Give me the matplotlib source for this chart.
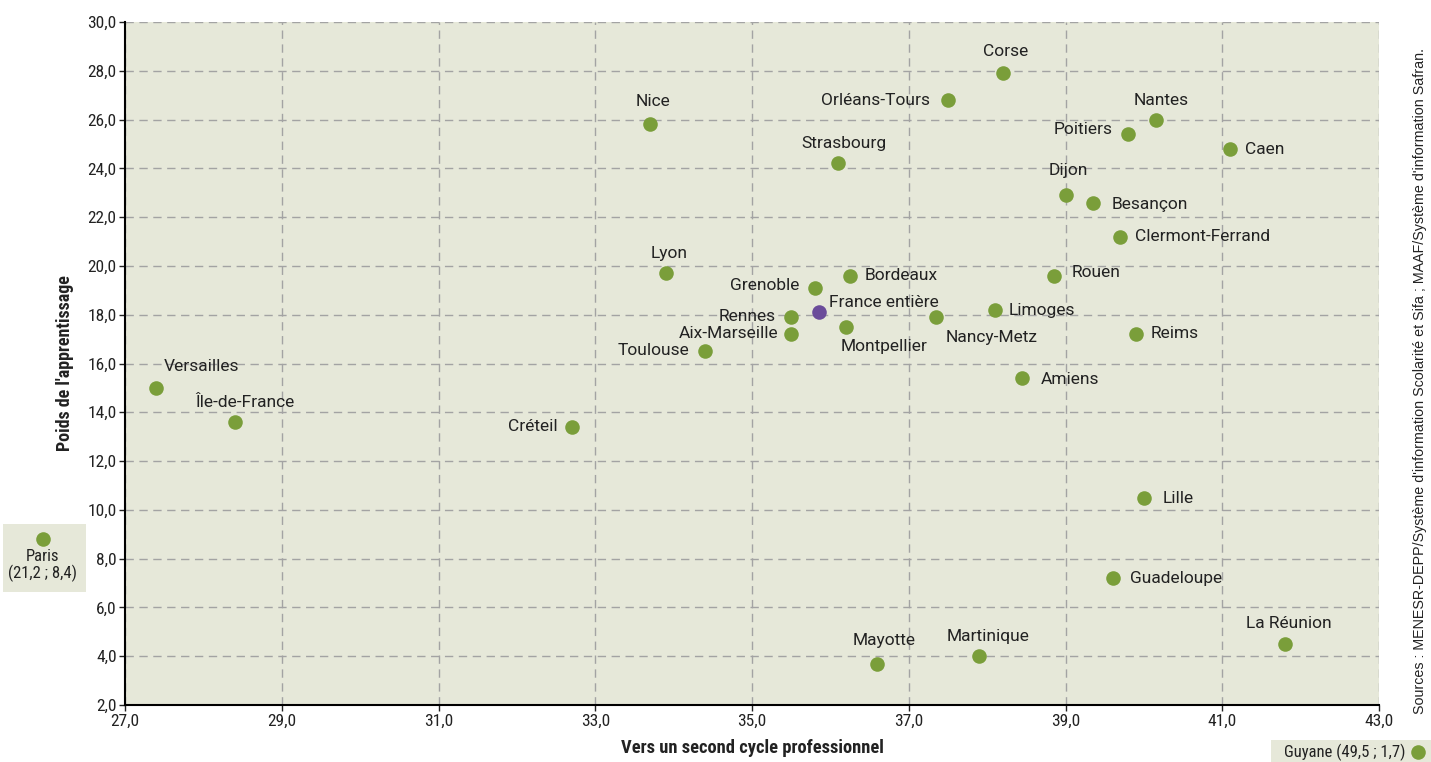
import matplotlib
matplotlib.use("Agg")
import matplotlib.pyplot as plt
import matplotlib.transforms as mtransforms
from matplotlib.patches import Rectangle
from matplotlib.ticker import FuncFormatter

# academies: x = vers un second cycle professionnel, y = poids de l'apprentissage
names = ["Versailles", "Île-de-France", "Créteil", "Nice", "Lyon", "Toulouse",
         "Rennes", "Aix-Marseille", "Grenoble", "Strasbourg", "Bordeaux",
         "Montpellier", "Mayotte", "Orléans-Tours", "Nancy-Metz", "Martinique",
         "Corse", "Limoges", "Amiens", "Rouen", "Dijon", "Besançon",
         "Clermont-Ferrand", "Poitiers", "Nantes", "Reims", "Lille",
         "Guadeloupe", "Caen", "La Réunion"]
x_pro = [27.4, 28.4, 32.7, 33.7, 33.9, 34.4,
         35.5, 35.5, 35.8, 36.1, 36.25,
         36.2, 36.6, 37.5, 37.35, 37.9,
         38.2, 38.1, 38.45, 38.85, 39.0, 39.35,
         39.7, 39.8, 40.15, 39.9, 40.0,
         39.6, 41.1, 41.8]
y_app = [15.0, 13.6, 13.4, 25.8, 19.7, 16.5,
         17.9, 17.2, 19.1, 24.2, 19.6,
         17.5, 3.7, 26.8, 17.9, 4.0,
         27.9, 18.2, 15.4, 19.6, 22.9, 22.6,
         21.2, 25.4, 26.0, 17.2, 10.5,
         7.2, 24.8, 4.5]

france_x, france_y = 35.85, 18.1
paris_x, paris_y = 21.2, 8.4
guyane_x, guyane_y = 49.5, 1.7

x_ticks = [27, 29, 31, 33, 35, 37, 39, 41, 43]
y_ticks = [2, 4, 6, 8, 10, 12, 14, 16, 18, 20, 22, 24, 26, 28, 30]

# label placement: (dx, dy) in pixels, horizontal alignment
label_pos = {
    "Versailles": (45, 21, "center"), "Île-de-France": (10, 20, "center"),
    "Créteil": (-14, 0, "right"), "Nice": (3, 23, "center"),
    "Lyon": (3, 20, "center"), "Toulouse": (-16, 1, "right"),
    "Rennes": (-15, 1, "right"), "Aix-Marseille": (-13, 1, "right"),
    "Grenoble": (-15, 2, "right"), "Strasbourg": (6, 20, "center"),
    "Bordeaux": (15, 0, "left"), "Montpellier": (38, -20, "center"),
    "Mayotte": (7, 23, "center"), "Orléans-Tours": (-18, 0, "right"),
    "Nancy-Metz": (55, -20, "center"), "Martinique": (9, 20, "center"),
    "Corse": (3, 22, "center"), "Limoges": (14, -1, "left"),
    "Amiens": (18, -1, "left"), "Rouen": (18, 3, "left"),
    "Dijon": (3, 25, "center"), "Besançon": (19, -2, "left"),
    "Clermont-Ferrand": (15, 0, "left"), "Poitiers": (-16, 5, "right"),
    "Nantes": (5, 19, "center"), "Reims": (15, 1, "left"),
    "Lille": (19, -1, "left"), "Guadeloupe": (17, 0, "left"),
    "Caen": (15, -1, "left"), "La Réunion": (4, 21, "center"),
}

GREEN = "#7a9e3a"
PURPLE = "#6b4c9a"
BG = "#e6e8d9"
TXT = "#222222"
FONT = ["Roboto Condensed", "DejaVu Sans Condensed", "Liberation Sans Narrow",
        "Roboto", "DejaVu Sans"]
LABEL_FONT = ["Roboto", "DejaVu Sans"]

plt.rcParams["font.family"] = FONT
plt.rcParams["font.size"] = 12

fig = plt.figure(figsize=(14.31, 7.62), dpi=100)
ax = fig.add_axes([0.0874, 0.0748, 0.8763, 0.8963])
ax.set_facecolor(BG)

ax.scatter(x_pro, y_app, s=110, color=GREEN, zorder=3, linewidths=0)
ax.scatter([france_x], [france_y], s=110, color=PURPLE, zorder=3, linewidths=0)

for n, xv, yv in zip(names, x_pro, y_app):
    dx, dy, ha = label_pos[n]
    ax.annotate(n, (xv, yv), xytext=(dx, dy), textcoords="offset pixels",
                ha=ha, va="center", fontsize=12.5, family=LABEL_FONT,
                color=TXT, zorder=4)
ax.annotate("France entière", (france_x, france_y), xytext=(10, 10),
            textcoords="offset pixels", ha="left", va="center",
            fontsize=12.5, family=LABEL_FONT, color=TXT, zorder=4)

ax.set_xlim(27, 43)
ax.set_ylim(2, 30)
ax.set_xticks(x_ticks)
ax.set_yticks(y_ticks)
fmt = FuncFormatter(lambda v, p: f"{v:.1f}".replace(".", ","))
ax.xaxis.set_major_formatter(fmt)
ax.yaxis.set_major_formatter(fmt)
ax.tick_params(direction="out", length=4, width=1, labelsize=12.5,
               colors=TXT, pad=2)
ax.grid(True, linestyle=(0, (6, 4)), color="#a3a3a3", linewidth=1, zorder=1)
ax.set_axisbelow(True)
for s in ("top", "right"):
    ax.spines[s].set_visible(False)
for s in ("left", "bottom"):
    ax.spines[s].set_linewidth(1.5)

ax.set_xlabel("Vers un second cycle professionnel", fontweight="bold",
              fontsize=13.3, color=TXT)
ax.xaxis.set_label_coords(0.5, -0.05)
ax.set_ylabel("Poids de l'apprentissage", fontweight="bold", fontsize=13,
              color=TXT)
ax.yaxis.set_label_coords(-0.041, 0.5)

# off-scale points (Paris, Guyane)
fig.patches.append(Rectangle((0.002, 0.223), 0.058, 0.089,
                             transform=fig.transFigure, facecolor=BG,
                             edgecolor="none", zorder=-1))
trans = mtransforms.blended_transform_factory(fig.transFigure, ax.transData)
fig.add_artist(plt.Line2D([0.030], [paris_y], marker="o", markersize=10.5,
                          color=GREEN, markeredgewidth=0, zorder=5,
                          transform=mtransforms.offset_copy(trans, fig=fig, y=10,
                                                            units="dots")))
fig.text(0.030, paris_y,
         f"Paris\n({paris_x:.1f} ; {paris_y:.1f})".replace(".", ","),
         transform=mtransforms.offset_copy(trans, fig=fig, y=-17, units="dots"),
         ha="center", va="center", fontsize=12, color=TXT, linespacing=1.05)

fig.patches.append(Rectangle((0.888, 0.0), 0.112, 0.029,
                             transform=fig.transFigure, facecolor=BG,
                             edgecolor="none", zorder=-1))
fig.text(0.982, 0.0125,
         f"Guyane ({guyane_x:.1f} ; {guyane_y:.1f})".replace(".", ","),
         ha="right", va="center", fontsize=12, color=TXT)
fig.add_artist(plt.Line2D([0.991], [0.0135], marker="o", markersize=10.5,
                          color=GREEN, markeredgewidth=0,
                          transform=fig.transFigure))

fig.text(0.992, 0.5, "Sources : MENESR-DEPP/Système d'information Scolarité et Sifa ; "
         "MAAF/Système d'information Safran.", rotation=90, ha="center",
         va="center", fontsize=10.3, family=["Liberation Sans", "DejaVu Sans"],
         color=TXT)

fig.savefig("out.png", dpi=100)
